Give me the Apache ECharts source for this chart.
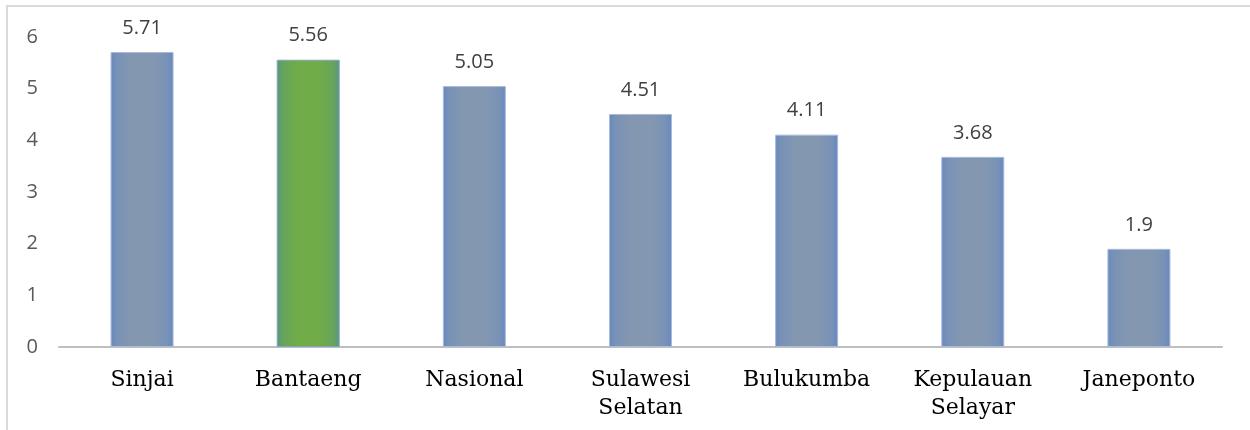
<!DOCTYPE html>
<html><head><meta charset="utf-8">
<script src="https://cdn.jsdelivr.net/npm/echarts@6/dist/echarts.min.js"></script>
<style>html,body{margin:0;padding:0;background:#fff}#c{width:1250px;height:430px}</style>
</head><body><div id="c"></div>
<script>
const categories = ['Sinjai', 'Bantaeng', 'Nasional', 'Sulawesi\nSelatan', 'Bulukumba', 'Kepulauan\nSelayar', 'Janeponto'];
const values = [5.71, 5.56, 5.05, 4.51, 4.11, 3.68, 1.9];
const highlightIndex = 1;
const yTicks = [0, 1, 2, 3, 4, 5, 6];

function grad(edge, half, mid) {
  return {
    type: 'linear', x: 0, y: 0, x2: 1, y2: 0,
    colorStops: [
      { offset: 0, color: edge },
      { offset: 0.1, color: half },
      { offset: 0.32, color: mid },
      { offset: 0.68, color: mid },
      { offset: 0.9, color: half },
      { offset: 1, color: edge }
    ]
  };
}
const blue = grad('#6787c0', '#7892b6', '#8397b1');
const green = grad('#5a9385', '#67a45c', '#70ac48');

const chart = echarts.init(document.getElementById('c'));
chart.setOption({
  animation: false,
  graphic: [{
    type: 'rect', shape: { x: 7, y: 6, width: 1300, height: 500 },
    style: { fill: 'none', stroke: '#d9d9d9', lineWidth: 2 }, silent: true
  }],
  grid: { left: 59, right: 28, top: 37, bottom: 83 },
  xAxis: {
    type: 'category', data: categories,
    axisLine: { lineStyle: { color: '#bfbfbf', width: 2 } },
    axisTick: { show: false },
    axisLabel: { fontFamily: 'DejaVu Serif', fontSize: 22, color: '#000', margin: 19, lineHeight: 28, interval: 0 }
  },
  yAxis: {
    type: 'value', min: yTicks[0], max: yTicks[yTicks.length - 1], interval: 1,
    axisLine: { show: false }, axisTick: { show: false },
    splitLine: { show: false },
    axisLabel: { fontFamily: 'Open Sans', fontSize: 20, color: '#595959', margin: 21 }
  },
  series: [{
    type: 'bar', barWidth: 63,
    data: values.map((v, i) => ({
      value: v,
      itemStyle: { color: i === highlightIndex ? green : blue,
        borderColor: i === highlightIndex ? '#7fa6c0' : '#a9bbdc', borderWidth: 1 }
    })),
    label: { show: true, position: 'top', distance: 14, fontFamily: 'Open Sans', fontSize: 20, color: '#404040' }
  }]
});
</script></body></html>
